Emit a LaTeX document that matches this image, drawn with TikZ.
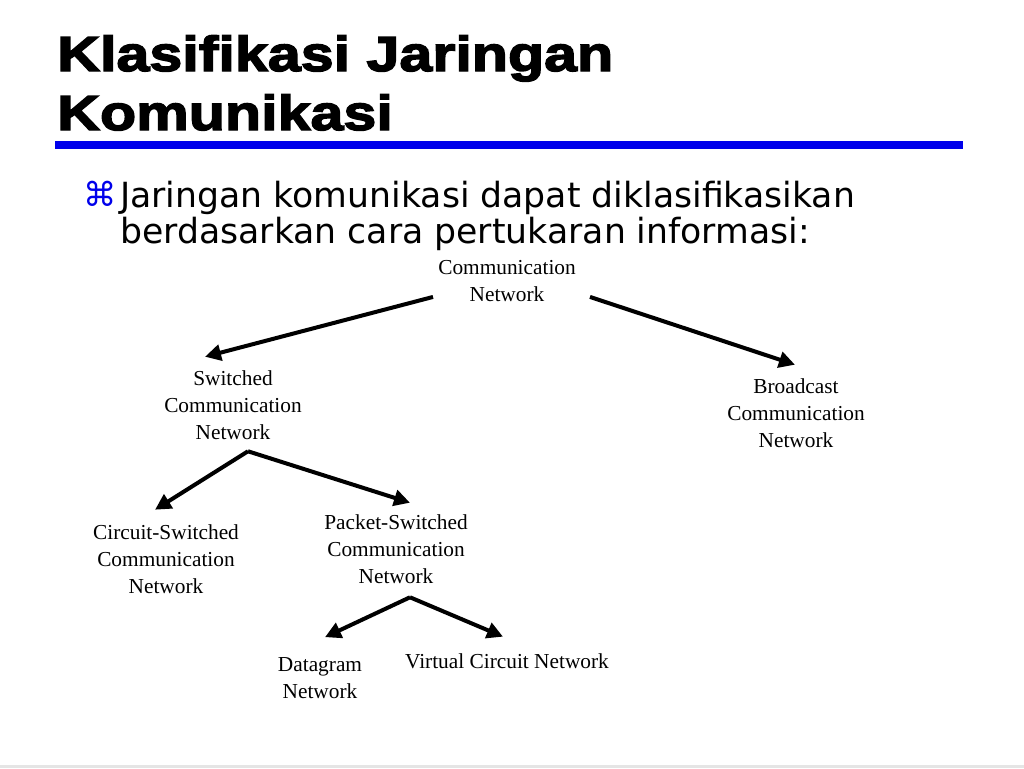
\documentclass[tikz,border=0pt]{standalone}
\usepackage{fontspec}
\setmainfont{Liberation Serif}
\newfontfamily\titlefont[FakeStretch=1.2,FakeBold=3]{Liberation Sans Bold}
\newfontfamily\bodyfont{DejaVu Sans}
\usetikzlibrary{arrows.meta,positioning}
\definecolor{barblue}{RGB}{0,0,235}
\tikzset
{
    netnode/.style  = {inner sep=0pt, align=center, font=\fontsize{16}{20.25}\selectfont},
    titleline/.style = {inner sep=0pt, anchor=base west, font=\titlefont\fontsize{37}{44}\selectfont},
    bodyline/.style = {inner sep=0pt, anchor=base west, font=\bodyfont\fontsize{26}{27}\selectfont},
    branch/.style   = {line width=3pt, -{Triangle[length=12pt,width=12pt]}}
}

\begin{document}
\begin{tikzpicture}[x=0.75pt, y=-0.75pt]
\useasboundingbox (0,0) rectangle (1024,768);
\fill[white] (0,0) rectangle (1024,768);
\fill[black!10] (0,765) rectangle (1024,768);

% title and bullet
\node (t1)[titleline] at (57,71)  {Klasifikasi Jaringan};
\node (t2)[titleline] at (57,130) {Komunikasi};
\fill[barblue] (55,141) rectangle (963,149);
\node (bl)[inner sep=0pt, anchor=base west, text=barblue, font=\bodyfont\fontsize{25}{27}\selectfont] at (83,206) {⌘};
\node (l1)[bodyline] at (120,207) {Jaringan komunikasi dapat diklasifikasikan};
\node (l2)[bodyline] at (120,243) {berdasarkan cara pertukaran informasi:};

% tree
\node (a)[netnode] at (507,281)   {Communication\\Network};
\node (b)[netnode] at (233,405.5) {Switched\\Communication\\Network};
\node (c)[netnode] at (796,413.5) {Broadcast\\Communication\\Network};
\node (d)[netnode] at (166,559.5) {Circuit-Switched\\Communication\\Network};
\node (e)[netnode] at (396,549.5) {Packet-Switched\\Communication\\Network};
\node (f)[netnode] at (320,678)   {Datagram\\Network};
\node (g)[netnode] at (507,661.5) {Virtual Circuit Network};

\coordinate (b-fork) at ([shift={(15,11)}]b.south);
\coordinate (e-fork) at ([shift={(14,13)}]e.south);

\draw[branch] ([shift={(-5,-5)}]a.south west) -- ([shift={(-28,-14)}]b.north);
\draw[branch] ([shift={(14,-5)}]a.south east) -- ([shift={(-1,-14)}]c.north);
\draw[branch] (b-fork) -- ([shift={(-11,-15)}]d.north);
\draw[branch] (b-fork) -- ([shift={(14,-12)}]e.north);
\draw[branch] (e-fork) -- ([shift={(5,-20)}]f.north);
\draw[branch] (e-fork) -- ([shift={(-4,-17)}]g.north);

\end{tikzpicture}
\end{document}
